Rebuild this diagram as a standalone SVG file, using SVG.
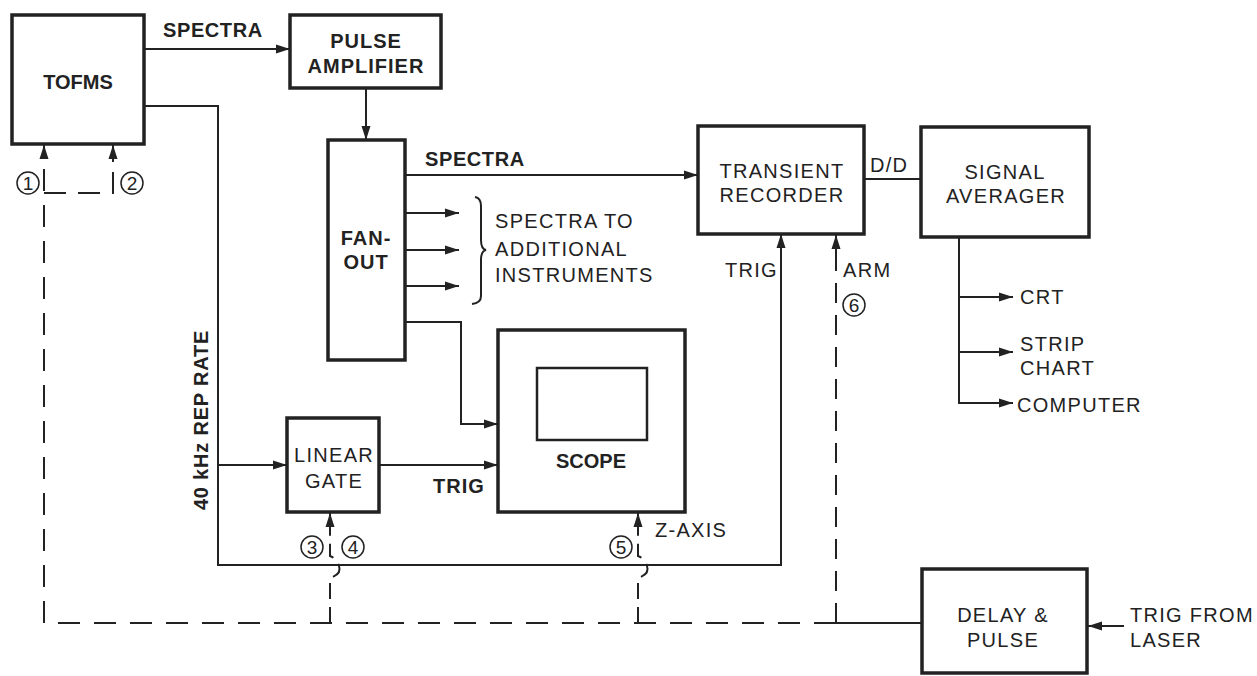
<svg xmlns="http://www.w3.org/2000/svg" width="1257" height="676" viewBox="0 0 1257 676">
<defs>
<marker id="ah" markerUnits="userSpaceOnUse" markerWidth="16" markerHeight="10" refX="14" refY="5" orient="auto"><path d="M0,0.5 L14,5 L0,9.5 z" fill="#222"/></marker>
<style>
.box{fill:#fff;stroke:#222;stroke-width:3.5}
.ln{fill:none;stroke:#222;stroke-width:2}
.ds{fill:none;stroke:#222;stroke-width:2;stroke-dasharray:22 14}
.b{font-family:"Liberation Sans",Arial,sans-serif;font-weight:bold;font-size:20px;fill:#222}
.r{font-family:"Liberation Sans",Arial,sans-serif;font-size:20px;fill:#222;letter-spacing:1.3px}
.c{fill:#fff;stroke:#222;stroke-width:1.5}
.n{font-family:"Liberation Sans",Arial,sans-serif;font-size:19px;fill:#222;text-anchor:middle}
.m{text-anchor:middle}
</style>
</defs>
<rect width="1257" height="676" fill="#fff"/>
<g id="connectors">
<line class="ln" x1="144" y1="49" x2="290" y2="49" marker-end="url(#ah)"/>
<line class="ln" x1="366" y1="88" x2="366" y2="140" marker-end="url(#ah)"/>
<line class="ln" x1="405" y1="175" x2="698" y2="175" marker-end="url(#ah)"/>
<line class="ln" x1="405" y1="213" x2="459" y2="213" marker-end="url(#ah)"/>
<line class="ln" x1="405" y1="250" x2="459" y2="250" marker-end="url(#ah)"/>
<line class="ln" x1="405" y1="286" x2="459" y2="286" marker-end="url(#ah)"/>
<path class="ln" d="M475,197 Q481,198 481,206 L481,240 Q481,249 486,250 Q481,251 481,260 L481,296 Q481,303 472,304"/>
<polyline class="ln" points="405,322 461,322 461,424 498,424" marker-end="url(#ah)"/>
<polyline class="ln" points="144,106 218,106 218,565 781,565 781,234" marker-end="url(#ah)"/>
<line class="ln" x1="218" y1="465" x2="287" y2="465" marker-end="url(#ah)"/>
<line class="ln" x1="379" y1="465" x2="498" y2="465" marker-end="url(#ah)"/>
<line class="ln" x1="864" y1="179" x2="921" y2="179"/>
<polyline class="ln" points="959,237 959,403 1013,403" marker-end="url(#ah)"/>
<line class="ln" x1="959" y1="297" x2="1013" y2="297" marker-end="url(#ah)"/>
<line class="ln" x1="959" y1="352" x2="1013" y2="352" marker-end="url(#ah)"/>
<line class="ln" x1="1124" y1="626" x2="1088" y2="626" marker-end="url(#ah)"/>
<line class="ln" x1="836" y1="623" x2="922" y2="623"/>
<path class="ds" d="M836,623 L44,623 L44,150"/>
<line class="ln" x1="44" y1="158" x2="44" y2="145" marker-end="url(#ah)"/>
<path class="ds" d="M44,193 L113,193 L113,158" style="stroke-dasharray:22 12"/>
<line class="ln" x1="113" y1="162" x2="113" y2="145" marker-end="url(#ah)"/>
<path class="ds" d="M836,623 L836,250" style="stroke-dasharray:20 12"/>
<line class="ln" x1="836" y1="254" x2="836" y2="235" marker-end="url(#ah)"/>
<path class="ds" d="M330,623 L330,578 Q342,574 339,566 Q336,558 330,556 L330,530" style="stroke-dasharray:16 8"/>
<line class="ln" x1="330" y1="532" x2="330" y2="513" marker-end="url(#ah)"/>
<path class="ds" d="M638,623 L638,578 Q650,574 647,566 Q644,558 638,556 L638,530" style="stroke-dasharray:16 8"/>
<line class="ln" x1="638" y1="532" x2="638" y2="513" marker-end="url(#ah)"/>
</g>
<g id="tofms"><rect class="box" x="12" y="15" width="132" height="129"/><text class="b m" x="78" y="89" font-size="21">TOFMS</text></g>
<g id="pulse-amplifier"><rect class="box" x="290" y="15" width="151" height="73"/><text class="b m" x="366" y="48" letter-spacing="1">PULSE</text><text class="b m" x="366" y="73" letter-spacing="1">AMPLIFIER</text></g>
<g id="fan-out"><rect class="box" x="328" y="140" width="77" height="220"/><text class="b m" x="366" y="245" letter-spacing="1">FAN-</text><text class="b m" x="366" y="269" letter-spacing="1">OUT</text></g>
<g id="linear-gate"><rect class="box" x="287" y="418" width="92" height="94"/><text class="r m" x="334" y="462" letter-spacing="0.8">LINEAR</text><text class="r m" x="334" y="488" letter-spacing="0.8">GATE</text></g>
<g id="scope"><rect class="box" x="498" y="330" width="187" height="182"/><rect class="box" x="537" y="368" width="110" height="72" style="stroke-width:2.5"/><text class="b m" x="591" y="468">SCOPE</text></g>
<g id="transient-recorder"><rect class="box" x="698" y="126" width="166" height="108"/><text class="r m" x="782" y="178">TRANSIENT</text><text class="r m" x="782" y="202">RECORDER</text></g>
<g id="signal-averager"><rect class="box" x="921" y="127" width="168" height="110"/><text class="r m" x="1005" y="179">SIGNAL</text><text class="r m" x="1006" y="203">AVERAGER</text></g>
<g id="delay-pulse"><rect class="box" x="922" y="569" width="165" height="104"/><text class="r m" x="1003" y="622">DELAY &amp;</text><text class="r m" x="1003" y="647">PULSE</text></g>
<g id="labels">
<text class="b" x="163" y="37" letter-spacing="0.6">SPECTRA</text>
<text class="b" x="425" y="166" letter-spacing="0.6">SPECTRA</text>
<text class="r" x="495" y="228" letter-spacing="1.2">SPECTRA TO</text>
<text class="r" x="495" y="256" letter-spacing="1.2">ADDITIONAL</text>
<text class="r" x="495" y="282" letter-spacing="1.2">INSTRUMENTS</text>
<text class="b" x="208" y="420" transform="rotate(-90 208 420)" text-anchor="middle" letter-spacing="0.8">40 kHz REP RATE</text>
<text class="b" x="433" y="493" letter-spacing="1">TRIG</text>
<text class="r" x="725" y="277">TRIG</text>
<text class="r" x="843" y="277">ARM</text>
<text class="r" x="870" y="172" letter-spacing="2">D/D</text>
<text class="r" x="655" y="537">Z-AXIS</text>
<text class="r" x="1020" y="304">CRT</text>
<text class="r" x="1020" y="351">STRIP</text>
<text class="r" x="1020" y="375">CHART</text>
<text class="r" x="1017" y="412">COMPUTER</text>
<text class="r" x="1130" y="622">TRIG FROM</text>
<text class="r" x="1130" y="647">LASER</text>
</g>
<g id="numbers">
<circle class="c" cx="28" cy="183" r="11"/><text class="n" x="28" y="190">1</text>
<circle class="c" cx="132" cy="183" r="11"/><text class="n" x="132" y="190">2</text>
<circle class="c" cx="312" cy="547" r="11"/><text class="n" x="312" y="554">3</text>
<circle class="c" cx="353" cy="547" r="11"/><text class="n" x="353" y="554">4</text>
<circle class="c" cx="621" cy="547" r="11"/><text class="n" x="621" y="554">5</text>
<circle class="c" cx="854" cy="305" r="11"/><text class="n" x="854" y="312">6</text>
</g>
</svg>
